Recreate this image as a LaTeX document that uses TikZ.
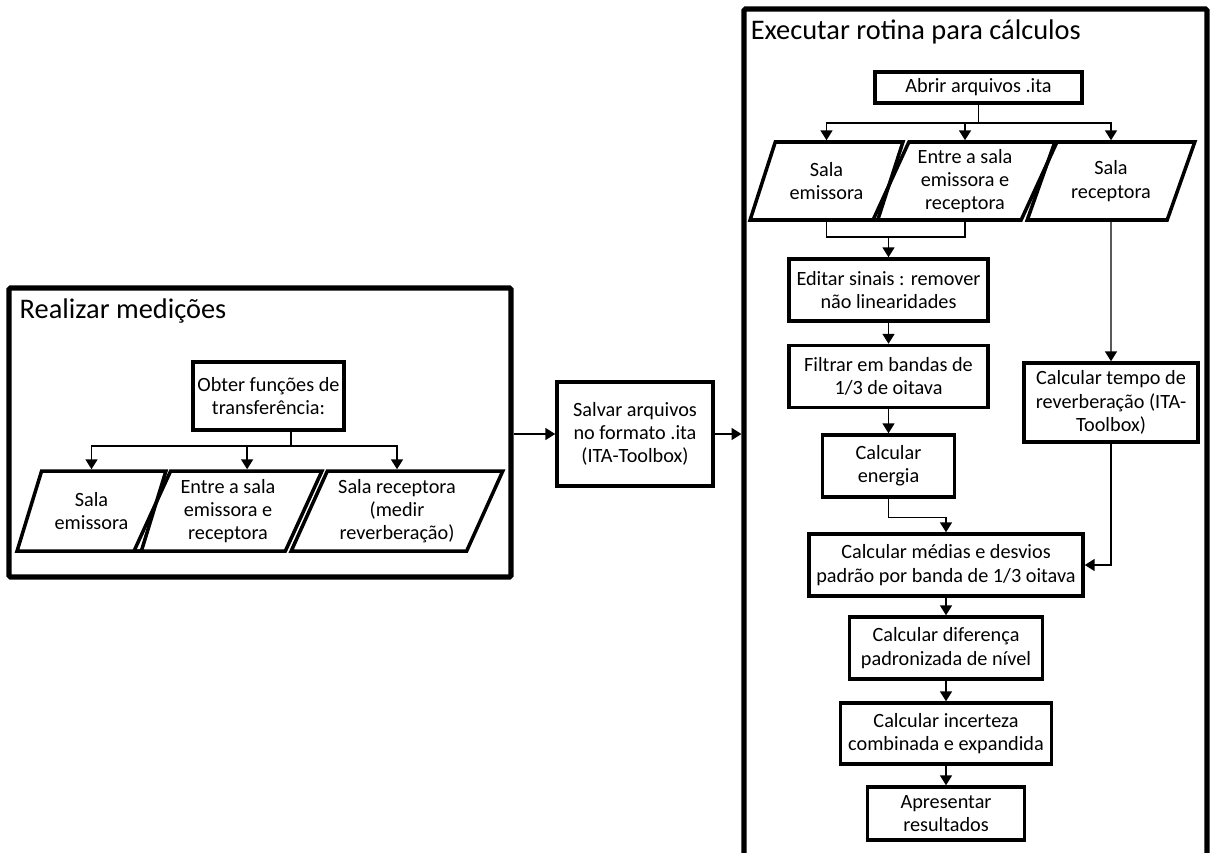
\documentclass[tikz,border=0pt]{standalone}
\usepackage{fontspec}
\setmainfont{Carlito}
\usetikzlibrary{shapes.geometric, arrows.meta}
\tikzstyle{frame} = [rectangle, 
draw=black, 
line width=3.6pt, 
rounded corners=1pt, 
inner sep=0pt]
\tikzstyle{title} = [anchor=base west, 
inner sep=0pt, 
font=\fontsize{20.2}{24}\selectfont]
\tikzstyle{process} = [rectangle, 
draw=black, 
line width=2.5pt, 
align=center, 
inner sep=1pt, 
minimum height=1.55cm, 
font=\fontsize{14.4}{16.6}\selectfont]
\tikzstyle{io} = [trapezium, 
trapezium stretches=true, 
trapezium left angle=65, 
trapezium right angle=115, 
draw=black, 
line width=2.5pt, 
align=center, 
inner sep=1pt, 
minimum height=2cm, 
font=\fontsize{14.4}{16.6}\selectfont]
\tikzstyle{line} = [line width=1pt]
\tikzstyle{arrow} = [line width=1pt, -{Triangle[length=7pt,width=8.5pt]}]

\begin{document}
\begin{tikzpicture}[node distance=2cm]
		\useasboundingbox (0,0) rectangle (30.375,-21.3);
		
		% Realizar medicoes
		\node (meas) [frame, minimum width=12.55cm, minimum height=7.225cm] at (6.5,-10.8125) {};
		\node (meastitle) [title] at ([shift={(0.325,-0.825)}]meas.north west) {Realizar medições};
		\node (obtain) [process, minimum width=3.775cm, minimum height=1.7cm] at (6.7125,-9.9) {Obter funções de\\transferência:};
		\node (msala1) [io, minimum width=3.725cm] at (2.2875,-12.775) {Sala\\emissora};
		\node (msala2) [io, right of=msala1, xshift=1.4125cm, minimum width=4.7cm] {Entre a sala\\emissora e\\receptora};
		\node (msala3) [io, right of=msala2, xshift=2.225cm, minimum width=5.3cm] {Sala receptora\\(medir\\reverberação)};
		\coordinate (msplit) at (7.275,-11.15);
		
		\node (salvar) [process, minimum width=3.9cm, minimum height=2.6cm] at (15.875,-10.85) {Salvar arquivos\\no formato .ita\\(ITA-Toolbox)};
		
		% Executar rotina
		\node (calc) [frame, minimum width=11.575cm, minimum height=21.775cm] at (24.3875,-11.1125) {};
		\node (calctitle) [title] at ([shift={(0.225,-0.825)}]calc.north west) {Executar rotina para cálculos};
		\node (abrir) [process, minimum width=5.175cm, minimum height=0.775cm] at (24.4625,-2.1875) {Abrir arquivos .ita};
		\node (csala1) [io, minimum width=3.825cm, minimum height=1.95cm] at (20.6625,-4.525) {Sala\\emissora};
		\node (csala2) [io, right of=csala1, xshift=1.4625cm, minimum width=4.6cm, minimum height=1.95cm] {Entre a sala\\emissora e\\receptora};
		\node (csala3) [io, right of=csala2, xshift=1.65cm, minimum width=4.2cm, minimum height=1.95cm] {Sala\\receptora};
		\node (edit) [process, minimum width=4.975cm] at (22.2125,-7.25) {Editar sinais : remover\\não linearidades};
		\node (filt) [process, below of=edit, yshift=-0.1625cm, minimum width=4.975cm] {Filtrar em bandas de\\1/3 de oitava};
		\node (energy) [process, below of=filt, yshift=-0.2375cm, minimum width=3.3cm] {Calcular\\energia};
		\node (tempo) [process, minimum width=4.35cm, minimum height=1.975cm] at (27.775,-10.0625) {Calcular tempo de\\reverberação (ITA-\\Toolbox)};
		\node (medias) [process, minimum width=6.85cm] at (23.65,-14.125) {Calcular médias e desvios\\padrão por banda de 1/3 oitava};
		\node (dif) [process, below of=medias, yshift=-0.075cm, minimum width=4.825cm] {Calcular diferença\\padronizada de nível};
		\node (inc) [process, below of=dif, yshift=-0.1375cm, minimum width=5.275cm, minimum height=1.525cm] {Calcular incerteza\\combinada e expandida};
		\node (apres) [process, below of=inc, minimum width=3.925cm, minimum height=1.325cm] {Apresentar\\resultados};
		\coordinate (csplit) at (abrir.south |- 0,-3.075);
		\coordinate (cmerge) at (edit.north |- 0,-5.925);
		
		\draw [line] (obtain.south -| msplit) -- (msplit);
		\draw [arrow] (msplit) -| (msala1);
		\draw [arrow] (msplit) -| (msala2.top side);
		\draw [arrow] (msplit) -| (msala3);
		\draw [arrow] (meas.east |- salvar.west) -- (salvar.west);
		\draw [arrow] (salvar.east) -- (salvar.east -| calc.west);
		
		\draw [line] (abrir) -- (csplit);
		\draw [arrow] (csplit) -| (csala1);
		\draw [arrow] (csplit) -| (csala2);
		\draw [arrow] (csplit) -| (csala3);
		\draw [line] (csala1) |- (cmerge) -| (csala2);
		\draw [arrow] (cmerge) -- (edit);
		\draw [arrow] (edit) -- (filt);
		\draw [arrow] (filt) -- (energy);
		\draw [arrow] (energy.south) -- ++(0,-0.475) -| (medias);
		\draw [arrow] (csala3) -- (tempo);
		\draw [arrow] (tempo) |- (medias);
		\draw [arrow] (medias) -- (dif);
		\draw [arrow] (dif) -- (inc);
		\draw [arrow] (inc) -- (apres);
		
	\end{tikzpicture}
\end{document}
